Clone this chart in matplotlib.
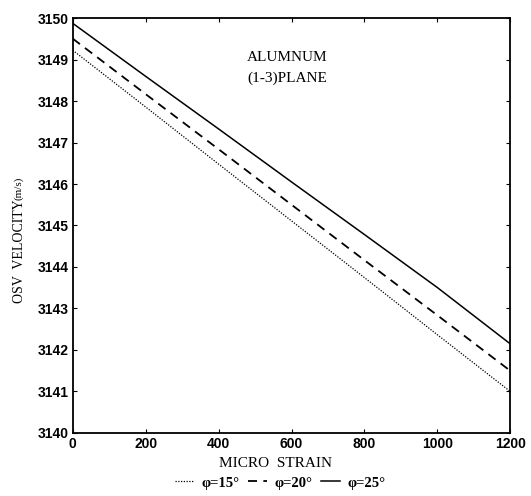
import matplotlib
matplotlib.use("Agg")
import matplotlib.pyplot as plt

# data
strain = [0, 200, 400, 600, 800, 1000, 1200]
v_phi15 = [3149.23, 3147.86, 3146.48, 3145.11, 3143.74, 3142.36, 3140.99]
v_phi20 = [3149.51, 3148.17, 3146.84, 3145.50, 3144.16, 3142.83, 3141.49]
v_phi25 = [3149.88, 3148.60, 3147.33, 3146.05, 3144.78, 3143.50, 3142.14]
labels = ["\u03c6=15\u00b0", "\u03c6=20\u00b0", "\u03c6=25\u00b0"]
xticks = [0, 200, 400, 600, 800, 1000, 1200]
yticks = list(range(3140, 3151))

serif = "Liberation Serif"
sans = "Liberation Sans"

fig = plt.figure(figsize=(5.31, 4.96), dpi=100)
ax = fig.add_axes([0.137, 0.128, 0.824, 0.835])

l1, = ax.plot(strain, v_phi15, color="black", linestyle=(0, (1, 1.2)), linewidth=0.9)
l2, = ax.plot(strain, v_phi20, color="black", linestyle=(0, (5, 3.5)), linewidth=1.3)
l3, = ax.plot(strain, v_phi25, color="black", linestyle="-", linewidth=1.1)

ax.set_xlim(0, 1200)
ax.set_ylim(3140, 3150)
ax.set_xticks(xticks)
ax.set_yticks(yticks)
ax.tick_params(direction="in", top=True, right=True, length=3, width=0.8, pad=3)
for lab in ax.get_xticklabels() + ax.get_yticklabels():
    lab.set_fontfamily(sans)
    lab.set_fontweight("bold")
    lab.set_fontsize(10)
for sp in ax.spines.values():
    sp.set_linewidth(1.3)

ax.set_xlabel("MICRO  STRAIN", fontfamily=serif, fontsize=11)
ax.xaxis.set_label_coords(0.463, -0.058)

# y label: units in a smaller font, as in the original
fig.text(0.036, 1 - 303 / 496, "OSV  VELOCITY", rotation=90, ha="center", va="bottom",
         fontfamily=serif, fontsize=10)
fig.text(0.035, 1 - 200 / 496, "(m/s)", rotation=90, ha="center", va="bottom",
         fontfamily=serif, fontsize=8)

ax.text(0.398, 0.905, "ALUMNUM", transform=ax.transAxes, fontfamily=serif,
        fontsize=11, va="center", ha="left")
ax.text(0.398, 0.856, "(1-3)PLANE", transform=ax.transAxes, fontfamily=serif,
        fontsize=11, va="center", ha="left")

fig.legend([l1, l2, l3], labels, loc="center", bbox_to_anchor=(280 / 531, 1 - 483 / 496),
           ncol=3, frameon=False, handlelength=1.3, handletextpad=0.5, columnspacing=0.6,
           prop={"family": serif, "size": 10.5, "weight": "bold"})

fig.savefig("out.png", dpi=100)
